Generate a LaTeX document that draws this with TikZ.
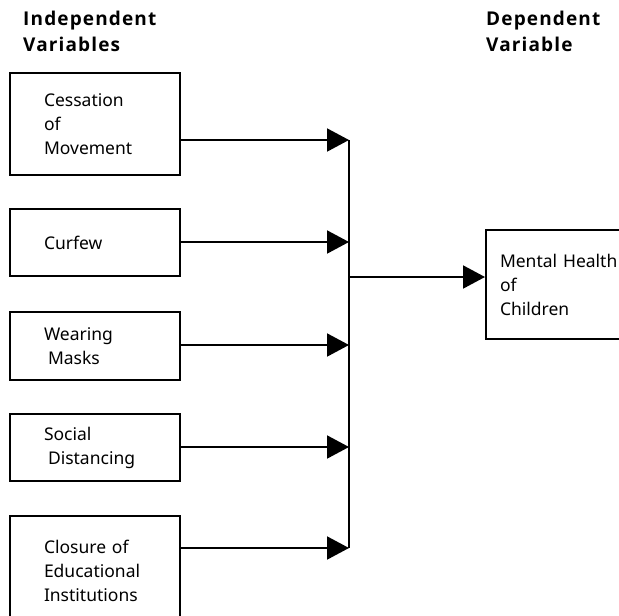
\documentclass[tikz,border=0pt]{standalone}
\usepackage{fontspec}
\setmainfont{Noto Sans}
\newfontfamily\headfont{Open Sans}[LetterSpace=6]
\usetikzlibrary{arrows.meta}

\tikzset{
    varbox/.style={draw, line width=2pt, anchor=north west, minimum width=170pt,
        text width=102pt, inner xsep=34pt, align=left, font=\fontsize{17.5}{24}\selectfont},
    heading/.style={anchor=north west, inner sep=0pt, align=left,
        font=\headfont\fontsize{19}{26}\selectfont\bfseries},
    link/.style={line width=2pt, -{Triangle[length=22pt, width=23pt]}},
}

\begin{document}
\begin{tikzpicture}[x=1pt, y=-1pt]
    \useasboundingbox (0,0) rectangle (619,616);
    \clip (0,0) rectangle (619,616);

    % Headings
    \node[heading] (indep) at (23,11) {Independent\\Variables};
    \node[heading] (dep) at (486,11) {Dependent\\Variable};

    % Independent variables
    \node[varbox, minimum height=102pt] (cm) at (9,72) {Cessation\\of\\Movement};
    \node[varbox, minimum height=67pt] (cf) at (9,208) {Curfew};
    \node[varbox, minimum height=68pt] (wm) at (9,311) {Wearing\\\hspace*{4pt}Masks};
    \node[varbox, minimum height=67pt] (sd) at (9,413) {Social\\\hspace*{4pt}Distancing};
    \node[varbox, minimum height=110pt] (ce) at (9,515) {Closure of\\Educational\\Institutions};

    % Dependent variable
    \node[varbox, minimum width=160pt, text width=132pt, inner xsep=14pt,
        minimum height=109pt] (mh) at (485,229) {Mental Health\\of\\Children};

    % Joints on the collecting line
    \coordinate (j1) at (349,140);
    \coordinate (j2) at (349,242);
    \coordinate (j3) at (349,345);
    \coordinate (j4) at (349,447);
    \coordinate (j5) at (349,548);
    \coordinate (jm) at (349,277);

    % Connections
    \draw[link] (cm.east |- j1) -- (j1);
    \draw[link] (cf.east |- j2) -- (j2);
    \draw[link] (wm.east |- j3) -- (j3);
    \draw[link] (sd.east |- j4) -- (j4);
    \draw[link] (ce.east |- j5) -- (j5);
    \draw[line width=2pt] (j1) -- (j5);
    \draw[link] (jm) -- (mh.west |- jm);
\end{tikzpicture}
\end{document}
